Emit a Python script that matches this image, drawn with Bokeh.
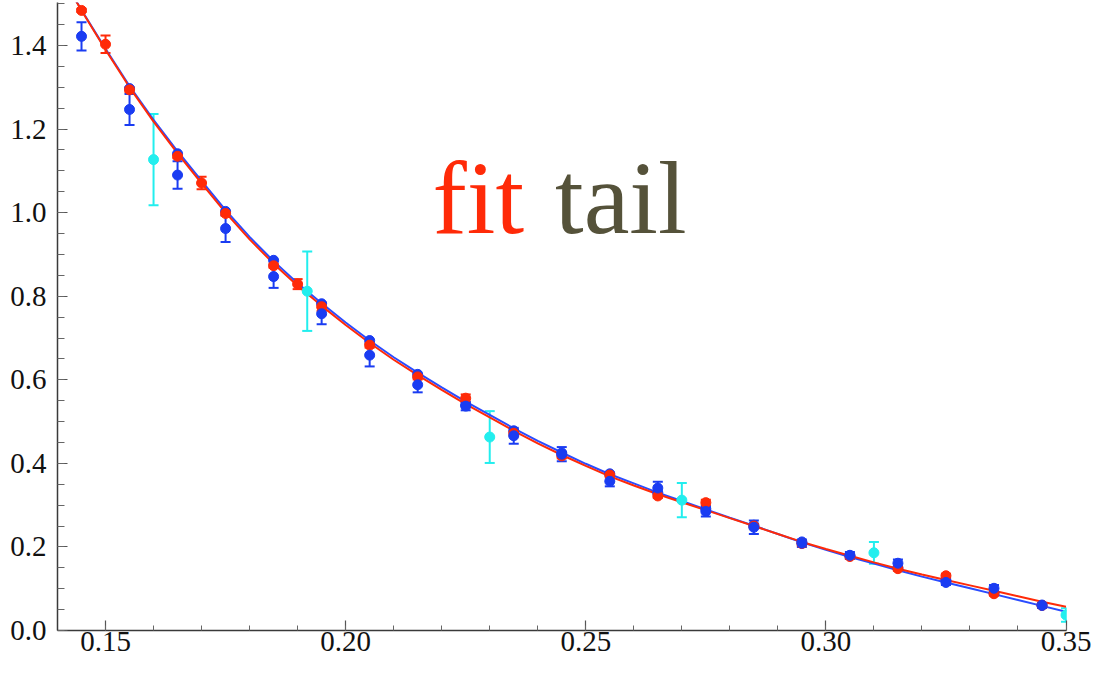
from bokeh.plotting import figure
from bokeh.models import (Range1d, SingleIntervalTicker, PrintfTickFormatter,
                          ColumnDataSource, Whisker, TeeHead, Label, LinearAxis)
from bokeh.embed import file_html
from bokeh.resources import INLINE

# ---------------- data ----------------
red_x = [0.145, 0.150, 0.155, 0.165, 0.170, 0.175, 0.185, 0.190, 0.195, 0.205,
         0.215, 0.225, 0.235, 0.245, 0.255, 0.265, 0.275, 0.285, 0.295, 0.305,
         0.315, 0.325, 0.335, 0.345]
red_y = [1.484, 1.403, 1.294, 1.135, 1.071, 0.998, 0.873, 0.829, 0.775, 0.683,
         0.607, 0.556, 0.472, 0.418, 0.372, 0.322, 0.306, 0.250, 0.208, 0.177,
         0.148, 0.131, 0.088, 0.060]
red_err = [0.004, 0.021, 0.006, 0.005, 0.015, 0.005, 0.005, 0.012, 0.010, 0.006,
           0.006, 0.009, 0.006, 0.006, 0.006, 0.005, 0.007, 0.005, 0.005, 0.005,
           0.005, 0.005, 0.004, 0.004]

blueA_x = [0.155, 0.165, 0.175, 0.185, 0.195, 0.205, 0.215, 0.225, 0.235, 0.245,
           0.255, 0.265, 0.275, 0.285, 0.295, 0.305, 0.315, 0.325, 0.335, 0.345]
blueA_y = [1.297, 1.141, 1.003, 0.886, 0.782, 0.694, 0.613, 0.540, 0.478, 0.425,
           0.375, 0.330, 0.291, 0.252, 0.212, 0.179, 0.150, 0.120, 0.090, 0.061]

blueB_x = [0.145, 0.155, 0.165, 0.175, 0.185, 0.195, 0.205, 0.215, 0.225, 0.235,
           0.245, 0.255, 0.265, 0.275, 0.285, 0.295, 0.305, 0.315, 0.325, 0.335,
           0.345]
blueB_y = [1.422, 1.247, 1.090, 0.962, 0.847, 0.758, 0.659, 0.588, 0.537, 0.466,
           0.422, 0.357, 0.341, 0.285, 0.247, 0.209, 0.180, 0.161, 0.115, 0.101,
           0.060]
blueB_err = [0.034, 0.037, 0.033, 0.032, 0.027, 0.025, 0.027, 0.018, 0.010, 0.019,
             0.017, 0.012, 0.015, 0.012, 0.016, 0.009, 0.008, 0.009, 0.006, 0.008,
             0.006]

cyan_x = [0.160, 0.192, 0.230, 0.270, 0.310, 0.350]
cyan_y = [1.127, 0.812, 0.463, 0.312, 0.186, 0.037]
cyan_err = [0.109, 0.095, 0.062, 0.041, 0.026, 0.016]

curve_x = [0.140, 0.145, 0.150, 0.155, 0.160, 0.165, 0.170, 0.175, 0.180, 0.185,
           0.190, 0.195, 0.200, 0.205, 0.210, 0.215, 0.220, 0.225, 0.230, 0.235,
           0.240, 0.245, 0.250, 0.255, 0.260, 0.265, 0.270, 0.275, 0.280, 0.285,
           0.290, 0.295, 0.300, 0.305, 0.310, 0.315, 0.320, 0.325, 0.330, 0.335,
           0.340, 0.345, 0.350]
red_fit = [1.582, 1.484, 1.390, 1.300, 1.218, 1.142, 1.070, 1.000, 0.936, 0.878,
           0.825, 0.777, 0.731, 0.688, 0.648, 0.611, 0.576, 0.542, 0.510, 0.478,
           0.448, 0.420, 0.394, 0.369, 0.347, 0.326, 0.307, 0.288, 0.269, 0.250,
           0.231, 0.212, 0.195, 0.179, 0.163, 0.148, 0.134, 0.121, 0.108, 0.095,
           0.082, 0.069, 0.057]
blue_fit = [1.582, 1.485, 1.392, 1.303, 1.222, 1.147, 1.076, 1.006, 0.942, 0.884,
            0.831, 0.783, 0.737, 0.694, 0.654, 0.617, 0.582, 0.548, 0.516, 0.484,
            0.454, 0.426, 0.399, 0.374, 0.352, 0.330, 0.310, 0.290, 0.270, 0.251,
            0.231, 0.211, 0.193, 0.176, 0.160, 0.144, 0.129, 0.115, 0.101, 0.087,
            0.073, 0.059, 0.045]

x_ticks_interval = 0.05
y_ticks_interval = 0.2

RED = "#ff2a08"
BLUE = "#1a3cf2"
BLUE_LINE = "#2a4cff"
CYAN = "#22eeee"
TEXT_OLIVE = "#55523a"
TICK_FONT = "Liberation Serif"

# ---------------- figure ----------------
p = figure(width=1094, height=660, output_backend="svg", toolbar_location=None,
           x_range=Range1d(0.14, 0.3501), y_range=Range1d(0.0, 1.503),
           x_axis_location=None, y_axis_location=None,
           min_border_left=57, min_border_right=28, min_border_top=2,
           min_border_bottom=30)
p.outline_line_color = None
p.xgrid.visible = False
p.ygrid.visible = False
p.background_fill_color = "white"
p.border_fill_color = "white"

xaxis = LinearAxis(ticker=SingleIntervalTicker(interval=x_ticks_interval, num_minor_ticks=5),
                   formatter=PrintfTickFormatter(format="%.2f"),
                   major_label_standoff=1)
yaxis = LinearAxis(ticker=SingleIntervalTicker(interval=y_ticks_interval, num_minor_ticks=4),
                   formatter=PrintfTickFormatter(format="%.1f"),
                   major_label_standoff=11)
for ax in (xaxis, yaxis):
    ax.axis_line_color = "#3a3a3a"
    ax.axis_line_width = 1.5
    ax.major_tick_line_color = "#555555"
    ax.minor_tick_line_color = "#666666"
    ax.major_tick_line_width = 1.2
    ax.minor_tick_line_width = 1.0
    ax.major_tick_in = 10
    ax.major_tick_out = 0
    ax.minor_tick_out = 0
    ax.major_label_text_font = TICK_FONT
    ax.major_label_text_font_size = "29px"
    ax.major_label_text_color = "#111111"
xaxis.minor_tick_in = 5
yaxis.minor_tick_in = 7
p.add_layout(xaxis, "below")
p.add_layout(yaxis, "left")

# fit curves
p.line(curve_x, blue_fit, line_color=BLUE_LINE, line_width=2)
p.line(curve_x, red_fit, line_color=RED, line_width=2)

# error bars + points
def add_series(xs, ys, errs, color, size=10):
    src = ColumnDataSource(dict(x=xs, y=ys,
                                lo=[a - b for a, b in zip(ys, errs)],
                                hi=[a + b for a, b in zip(ys, errs)]))
    w = Whisker(source=src, base="x", lower="lo", upper="hi",
                line_color=color, line_width=2,
                upper_head=TeeHead(size=10, line_color=color, line_width=2),
                lower_head=TeeHead(size=10, line_color=color, line_width=2))
    p.add_layout(w)
    p.scatter("x", "y", source=src, size=size, fill_color=color, line_color=color)

add_series(cyan_x, cyan_y, cyan_err, CYAN)
p.scatter(blueA_x, blueA_y, size=10, fill_color=BLUE, line_color=BLUE)
add_series(red_x, red_y, red_err, RED)
add_series(blueB_x, blueB_y, blueB_err, BLUE)

# annotation text
p.add_layout(Label(x=0.2181, y=1.034, text="fit", text_color=RED,
                   text_font="Liberation Serif", text_font_size="103px",
                   text_baseline="alphabetic"))
p.add_layout(Label(x=0.2436, y=1.034, text="tail", text_color=TEXT_OLIVE,
                   text_font="Liberation Serif", text_font_size="103px",
                   text_baseline="alphabetic"))

open("out.html", "w").write(file_html(p, INLINE))
